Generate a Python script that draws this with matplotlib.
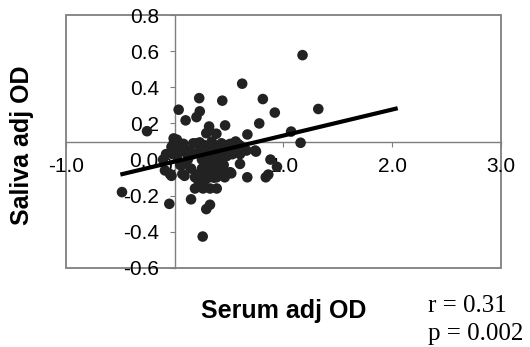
import matplotlib
matplotlib.use('Agg')
import matplotlib.pyplot as plt
from matplotlib.patches import Rectangle

plt.rcParams['font.family'] = ['Liberation Sans', 'DejaVu Sans']

# serum vs saliva adjusted OD, one point per subject
serum_od = [
    1.175, 0.62, 0.81, 1.32, 0.92, 0.225, 0.437, 0.036, 0.10, 0.23,
    0.20, -0.255, 0.777, 1.07, 1.157, 0.316, 0.463, 0.29, 0.383, 0.32,
    0.668, 0.58, 0.61, 0.747, 0.88, 0.94, 0.60, 0.667, 0.837, 0.86,
    -0.485, -0.05, 0.15, 0.186, 0.26, 0.324, 0.386, 0.324, 0.29, 0.257,
    -0.107, -0.08, -0.03, -0.01, 0.02, -0.01, 0.02, 0.05, 0.08, 0.17,
    0.20, 0.23, 0.14, 0.17, 0.51, 0.55, 0.66, 0.74, 0.60, -0.09,
    -0.03, -0.044, 0.07, 0.085, 0.09, 0.186, 0.45, 0.51, 0.46, 0.52,
    0.22, 0.25, 0.25, 0.28, 0.28, 0.30, 0.30, 0.33, 0.33, 0.35,
    0.35, 0.38, 0.38, 0.40, 0.40, 0.42, 0.44, 0.45, 0.48, 0.48,
    0.27, 0.31, 0.36, 0.22, 0.43, 0.50, 0.12, 0.15, 0.10, 0.22,
    0.27, 0.34, 0.53, 0.56, 0.02, 0.05, 0.00, -0.02, 0.385, 0.60,
]
saliva_od = [
    0.578, 0.42, 0.335, 0.28, 0.26, 0.34, 0.326, 0.276, 0.217, 0.267,
    0.235, 0.157, 0.20, 0.155, 0.093, 0.183, 0.189, 0.146, 0.143, 0.16,
    0.139, 0.087, 0.06, 0.044, 0.0, -0.04, -0.024, -0.098, -0.098, -0.083,
    -0.18, -0.245, -0.22, -0.16, -0.16, -0.16, -0.16, -0.25, -0.274, -0.426,
    0.0, 0.03, 0.07, 0.117, 0.11, 0.09, 0.09, 0.07, 0.087, 0.09,
    0.09, 0.095, 0.05, 0.03, 0.087, 0.07, 0.05, 0.05, 0.078, -0.06,
    -0.09, -0.08, -0.08, -0.024, -0.09, -0.098, -0.08, -0.07, -0.098, -0.076,
    0.04, 0.0, -0.05, 0.05, -0.02, 0.02, -0.07, 0.06, -0.03, 0.0,
    -0.06, 0.04, -0.02, 0.07, -0.05, 0.01, 0.05, -0.03, 0.08, 0.02,
    0.08, -0.10, -0.10, -0.08, 0.09, 0.05, 0.0, -0.05, 0.04, -0.12,
    -0.12, 0.10, 0.03, 0.10, 0.02, -0.03, 0.05, 0.03, -0.098, 0.03,
]

# least-squares line as drawn in the figure
fit_intercept = -0.011
fit_slope = 0.144
fit_x = [-0.5, 2.05]

x_ticks = [-1.0, 0.0, 1.0, 2.0, 3.0]
y_ticks = [-0.6, -0.4, -0.2, 0.0, 0.2, 0.4, 0.6, 0.8]
x_axis_at = 0.1
stats_text = ['r = 0.31', 'p = 0.002']

fig = plt.figure(figsize=(5.3, 3.47), dpi=100)
ax = fig.add_axes([0.1245, 0.2277, 0.8208, 0.729])
ax.set_xlim(-1.0, 3.0)
ax.set_ylim(-0.6, 0.8)

axis_grey = '#7f7f7f'
for side in ['top', 'right']:
    ax.spines[side].set_visible(False)
ax.spines['left'].set_position(('data', 0.0))
ax.spines['bottom'].set_position(('data', x_axis_at))
for side in ['left', 'bottom']:
    ax.spines[side].set_color(axis_grey)
    ax.spines[side].set_linewidth(1.0)

# outer frame of the plot area
ax.add_patch(Rectangle((0, 0), 1, 1, transform=ax.transAxes, fill=False,
                       edgecolor=axis_grey, linewidth=1.3, clip_on=False, zorder=1))

ax.set_xticks(x_ticks)
ax.set_xticklabels(['%.1f' % v for v in x_ticks])
ax.set_yticks(y_ticks)
ax.set_yticklabels(['%.1f' % v for v in y_ticks])
ax.tick_params(axis='y', direction='out', length=3.5, pad=8, color=axis_grey,
               labelsize=15)
ax.tick_params(axis='x', direction='out', length=3.5, pad=8, color=axis_grey,
               labelsize=15)

ax.scatter(serum_od, saliva_od, s=58, color='#222222', edgecolors='none',
           zorder=3, clip_on=False)

fit_y = [fit_intercept + fit_slope * v for v in fit_x]
ax.plot(fit_x, fit_y, color='black', linewidth=3.0, zorder=4,
        solid_capstyle='butt')

fig.text(284 / 530, 0.0836, 'Serum adj OD', ha='center', va='baseline',
         fontsize=18, fontweight='bold')
fig.text(0.0406, 0.582, 'Saliva adj OD', ha='center', va='center',
         rotation=90, fontsize=18, fontweight='bold')
fig.text(428 / 530, 0.101, stats_text[0], ha='left', va='baseline',
         fontsize=18, family=['Liberation Serif', 'DejaVu Serif'])
fig.text(428 / 530, 0.02, stats_text[1], ha='left', va='baseline',
         fontsize=18, family=['Liberation Serif', 'DejaVu Serif'])

fig.savefig('out.png', dpi=100)
